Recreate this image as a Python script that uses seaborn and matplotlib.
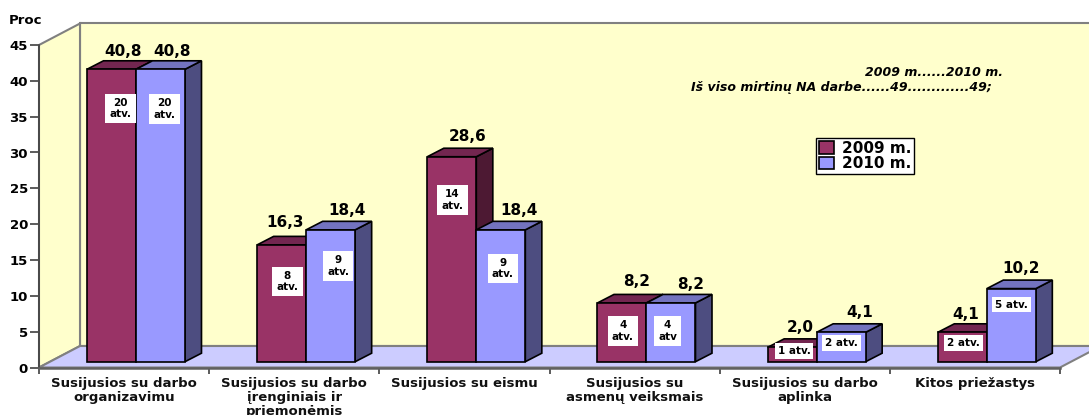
import matplotlib
matplotlib.use('Agg')
import matplotlib.pyplot as plt
from matplotlib.patches import Polygon
import pandas as pd
import seaborn as sns

# --- Data ---
categories = ['Susijusios su darbo\norganizavimu',
              'Susijusios su darbo\nįrenginiais ir\npriemonėmis',
              'Susijusios su eismu',
              'Susijusios su\nasmenų veiksmais',
              'Susijusios su darbo\naplinka',
              'Kitos priežastys']
values_2009 = [40.8, 16.3, 28.6, 8.2, 2.0, 4.1]
values_2010 = [40.8, 18.4, 18.4, 8.2, 4.1, 10.2]
cases_2009 = ['20\natv.', '8\natv.', '14\natv.', '4\natv.', '1 atv.', '2 atv.']
cases_2010 = ['20\natv.', '9\natv.', '9\natv.', '4\natv', '2 atv.', '5 atv.']
y_ticks = [0, 5, 10, 15, 20, 25, 30, 35, 40, 45]

# --- Layout, in pixels of the 1089x415 picture ---
W, H = 1089, 415
AX_LEFT, AX_RIGHT, AX_TOP, AX_BOTTOM = 39, 1060, 45, 367.5
PX_X = (AX_RIGHT - AX_LEFT) / 6
PX_Y = (AX_BOTTOM - AX_TOP) / 45

# value label offsets from the bar's front top centre (x px, y px up)
label_off_2009 = [(12, 18), (3, 22), (16, 20), (15, 21), (8, 20), (3, 18)]
label_off_2010 = [(12, 18), (16, 19), (18, 19), (20, 18), (19, 20), (10, 20)]
# centres of the white case boxes
box_pos_2009 = [(120.5, 108.5), (287.5, 281.5), (452.5, 200), (623, 331), (794, 351), (963.5, 343)]
box_pos_2010 = [(164.5, 109), (338, 266), (503, 268.5), (667.5, 331), (841.5, 343), (1011.5, 304.5)]

# 3D look
WALL_DX, WALL_DY = 41 / PX_X, 21.5 / PX_Y
BAR_DX, BAR_DY = 16.5 / PX_X, 8.5 / PX_Y
BAR_LIFT = 5.8 / PX_Y
BAR_SHIFT = 11.9 / PX_X

colors = {'2009 m.': '#993366', '2010 m.': '#9999FF'}
top_colors = ['#732650', '#7373BF']
side_colors = ['#4D1933', '#4D4D80']

df = pd.DataFrame({
    'category': categories * 2,
    'value': values_2009 + values_2010,
    'year': ['2009 m.'] * 6 + ['2010 m.'] * 6,
})

sns.set_style('ticks')
plt.rcParams['font.family'] = ['DejaVu Sans']
plt.rcParams['font.weight'] = 'bold'
plt.rcParams['text.color'] = 'black'
plt.rcParams['xtick.labelcolor'] = 'black'
plt.rcParams['ytick.labelcolor'] = 'black'

fig = plt.figure(figsize=(W / 100, H / 100), dpi=100)
ax = fig.add_axes([AX_LEFT / W, 1 - AX_BOTTOM / H, (AX_RIGHT - AX_LEFT) / W, (AX_BOTTOM - AX_TOP) / H])
sns.barplot(data=df, x='category', y='value', hue='year', palette=colors, order=categories,
            width=0.576, saturation=1, edgecolor='black', linewidth=1.2, ax=ax, zorder=5)
ax.set_xlim(-0.5, 5.5)
ax.set_ylim(0, 45)
ax.patch.set_visible(False)

# Walls and floor
x0, x1 = -0.5, 5.5
grey = '#808080'
ax.add_patch(Polygon([(x0 + WALL_DX, WALL_DY), (x1 + WALL_DX, WALL_DY), (x1 + WALL_DX, 45 + WALL_DY), (x0 + WALL_DX, 45 + WALL_DY)],
                     fc='#FFFFCC', ec=grey, lw=1.5, clip_on=False, zorder=1))
ax.add_patch(Polygon([(x0, 0), (x0, 45), (x0 + WALL_DX, 45 + WALL_DY), (x0 + WALL_DX, WALL_DY)],
                     fc='#FFFFCC', ec=grey, lw=1.5, clip_on=False, zorder=1))
ax.add_patch(Polygon([(x0, 0), (x0 + WALL_DX, WALL_DY), (x1 + WALL_DX, WALL_DY), (x1, 0)],
                     fc='#CCCCFF', ec=grey, lw=1.5, clip_on=False, zorder=1))

# Move the bars into the floor and give them top and side faces
all_off = [label_off_2009, label_off_2010]
for s, container in enumerate(ax.containers):
    for i, bar in enumerate(container):
        bar.set_x(bar.get_x() + BAR_SHIFT)
        bar.set_y(BAR_LIFT)
        left, right = bar.get_x(), bar.get_x() + bar.get_width()
        bottom, top = BAR_LIFT, BAR_LIFT + bar.get_height()
        z = 3 + s * 3
        bar.set_zorder(z + 2)
        ax.add_patch(Polygon([(right, bottom), (right + BAR_DX, bottom + BAR_DY), (right + BAR_DX, top + BAR_DY), (right, top)],
                             fc=side_colors[s], ec='black', lw=1.2, clip_on=False, zorder=z))
        ax.add_patch(Polygon([(left, top), (left + BAR_DX, top + BAR_DY), (right + BAR_DX, top + BAR_DY), (right, top)],
                             fc=top_colors[s], ec='black', lw=1.2, clip_on=False, zorder=z + 1))
        text = f'{bar.get_height():.1f}'.replace('.', ',')
        ax.annotate(text, xy=((left + right) / 2, top), xytext=all_off[s][i], textcoords='offset pixels',
                    ha='center', va='center', fontsize=11, fontweight='bold', color='black', zorder=20,
                    annotation_clip=False)

# White boxes with the number of cases
for labels, positions in [(cases_2009, box_pos_2009), (cases_2010, box_pos_2010)]:
    for text, (px, py) in zip(labels, positions):
        pad = 3 if '\n' in text else 2
        ax.text(px / W, 1 - py / H, text, transform=fig.transFigure, ha='center', va='center',
                fontsize=7.5, fontweight='bold', color='black', linespacing=1.15, zorder=21,
                bbox=dict(fc='white', ec='none', pad=pad))

# Axes
sns.despine(ax=ax)
ax.spines['left'].set_color('#404040')
ax.spines['left'].set_linewidth(1.2)
ax.spines['left'].set_zorder(2)
ax.spines['bottom'].set_color('#606060')
ax.spines['bottom'].set_linewidth(1.8)
ax.spines['bottom'].set_zorder(2)
ax.set_xlabel('')
ax.set_ylabel('')
ax.set_yticks(y_ticks)
ax.tick_params(axis='y', length=6.5, width=1.2, color='#404040', labelsize=9.5, pad=1.5)
ax.set_xticks([i - 0.5 for i in range(7)])
ax.set_xticklabels([])
ax.tick_params(axis='x', which='major', length=4.5, width=1.2, color='#404040')
ax.set_xticks(range(6), minor=True)
ax.set_xticklabels(categories, minor=True, fontsize=9.5, fontweight='bold', linespacing=1.12, color='#111111', va='top')
ax.tick_params(axis='x', which='minor', length=0, pad=6.5)
for tick in ax.get_yticklabels():
    tick.set_fontweight('bold')

# Legend
handles, labels = ax.get_legend_handles_labels()
ax.legend(handles, labels, loc='upper left', bbox_to_anchor=(816 / W, 1 - 138 / H), bbox_transform=fig.transFigure,
          frameon=True, fancybox=False, framealpha=1, facecolor='white', edgecolor='black',
          handlelength=1.0, handleheight=0.9, handletextpad=0.5, labelspacing=0.02,
          borderpad=0.2, borderaxespad=0, prop={'weight': 'bold', 'size': 11}).set_zorder(22)

# Texts
fig.text(9 / W, 1 - 21 / H, 'Proc', fontsize=9.5, fontweight='bold', va='center')
fig.text(1003 / W, 1 - 72 / H, '2009 m......2010 m.', fontsize=9, fontweight='bold', style='italic', ha='right', va='center')
fig.text(992 / W, 1 - 87 / H, 'Iš viso mirtinų NA darbe......49.............49;', fontsize=9, fontweight='bold', style='italic', ha='right', va='center')

fig.savefig('out.png', dpi=100)
